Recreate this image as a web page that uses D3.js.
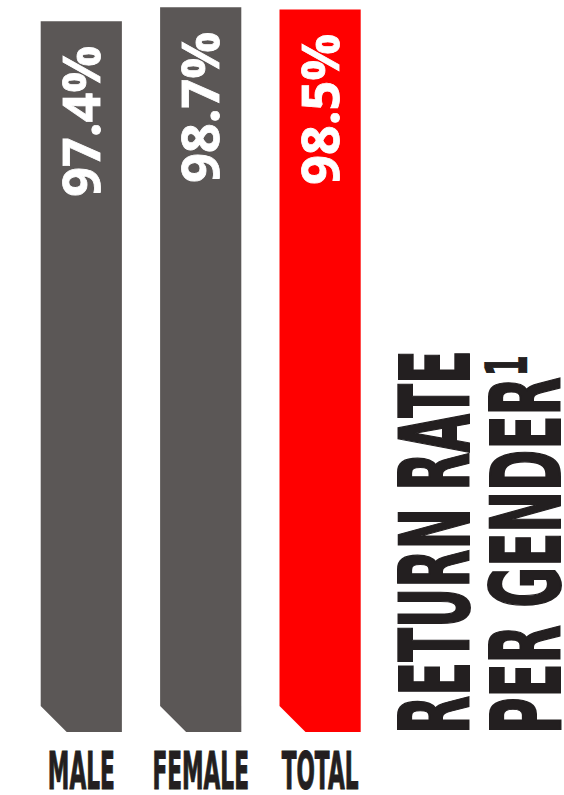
<!DOCTYPE html>
<html>
<head>
<meta charset="utf-8">
<script src="https://cdn.jsdelivr.net/npm/d3@7"></script>
<style>
  html, body { margin: 0; padding: 0; background: #ffffff; }
  svg { display: block; }
</style>
</head>
<body>
<svg id="chart" width="564" height="795"></svg>
<script>
// Return rate per gender, in percent
const categories = ["MALE", "FEMALE", "TOTAL"];
const values = [97.4, 98.7, 98.5];
const valueLabels = ["97.4%", "98.7%", "98.5%"];
const barColors = ["#5b5756", "#5b5756", "#ff0000"];
const titleLines = ["RETURN RATE", "PER GENDER"];
const titleNote = "1";

const svg = d3.select("#chart");

const inkDark = "#231f20";
const condensedFont = "'DejaVu Sans', 'Liberation Sans', sans-serif";

const x = d3.scaleBand()
  .domain(categories)
  .range([40.7, 360.7])
  .paddingInner(0.32)
  .paddingOuter(0);

const baseY = 732;
const y = d3.scaleLinear()
  .domain([31.4, 98.7])
  .range([baseY, 7.3]);

const cut = 26;

// Bars with a bevelled lower-left corner
svg.append("g")
  .selectAll("path")
  .data(categories)
  .join("path")
  .attr("fill", (d, i) => barColors[i])
  .attr("d", (d, i) => {
    const x0 = x(d), x1 = x(d) + x.bandwidth();
    const yt = y(values[i]);
    return `M${x0},${yt}H${x1}V${baseY}H${x0 + cut}L${x0},${baseY - cut}Z`;
  });

// Value labels, written upward inside each bar
const valueSize = 52;
svg.append("g")
  .selectAll("text")
  .data(categories)
  .join("text")
  .attr("transform", (d, i) => {
    const cx = x(d) + x.bandwidth() / 2;
    return `translate(${cx + valueSize * 0.357},${y(values[i]) + 24.5}) rotate(-90)`;
  })
  .attr("text-anchor", "end")
  .attr("fill", "#ffffff")
  .attr("stroke", "#ffffff")
  .attr("stroke-width", 0.8)
  .style("font-family", "'Open Sans', 'DejaVu Sans', sans-serif")
  .style("font-weight", 700)
  .style("font-size", valueSize + "px")
  .text((d, i) => valueLabels[i]);

// Category labels below the bars
const catSize = 51.6;
svg.append("g")
  .selectAll("text")
  .data(categories)
  .join("text")
  .attr("transform", d => `translate(${x(d) + x.bandwidth() / 2},789) scale(0.42,1)`)
  .attr("text-anchor", "middle")
  .attr("fill", inkDark)
  .attr("stroke", inkDark)
  .attr("stroke-width", 1.2)
  .style("font-family", condensedFont)
  .style("font-weight", 700)
  .style("font-size", catSize + "px")
  .text(d => d);

// Vertical title on the right, each line squeezed to its run length
const titleSize = 96;
const titleRun = [384, 357];
const titleBase = [469, 560];
const titleG = svg.append("g");
const lines = titleG.selectAll("text.title")
  .data(titleLines)
  .join("text")
  .attr("class", "title")
  .attr("text-anchor", "start")
  .attr("fill", inkDark)
  .attr("stroke", inkDark)
  .attr("stroke-width", 2)
  .style("font-family", condensedFont)
  .style("font-weight", 700)
  .style("font-size", titleSize + "px")
  .text(d => d);

const titleScale = [];
lines.each(function (d, i) {
  titleScale[i] = titleRun[i] / this.getComputedTextLength();
  d3.select(this).attr("transform",
    `translate(${titleBase[i]},734) rotate(-90) scale(${titleScale[i]},1)`);
});

// Footnote marker after the second line
const line2End = 734 - titleRun[1];
titleG.append("text")
  .attr("transform", `translate(527,${line2End - 1}) rotate(-90) scale(${titleScale[1]},1)`)
  .attr("text-anchor", "start")
  .attr("fill", inkDark)
  .attr("stroke", inkDark)
  .attr("stroke-width", 1.5)
  .style("font-family", condensedFont)
  .style("font-weight", 700)
  .style("font-size", "57px")
  .text(titleNote);
</script>
</body>
</html>
